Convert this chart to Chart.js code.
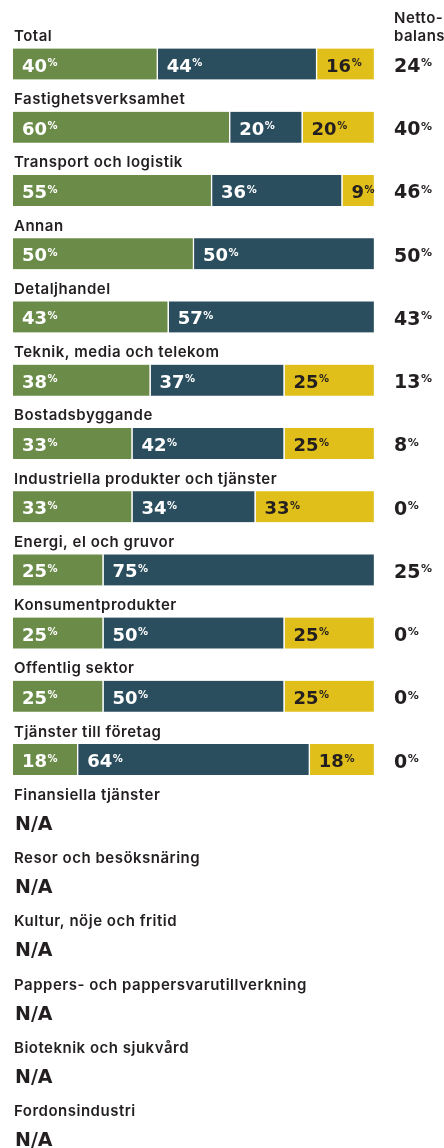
<!DOCTYPE html>
<html>
<head>
<meta charset="utf-8">
<script src="https://cdn.jsdelivr.net/npm/chart.js@4"></script>
<style>
  html, body { margin: 0; padding: 0; background: #fff; }
  #wrap { width: 444px; height: 1148px; }
</style>
</head>
<body>
<div id="wrap"><canvas id="chart" width="444" height="1148"></canvas></div>
<script>
const categories = [
  'Total',
  'Fastighetsverksamhet',
  'Transport och logistik',
  'Annan',
  'Detaljhandel',
  'Teknik, media och telekom',
  'Bostadsbyggande',
  'Industriella produkter och tjänster',
  'Energi, el och gruvor',
  'Konsumentprodukter',
  'Offentlig sektor',
  'Tjänster till företag',
  'Finansiella tjänster',
  'Resor och besöksnäring',
  'Kultur, nöje och fritid',
  'Pappers- och pappersvarutillverkning',
  'Bioteknik och sjukvård',
  'Fordonsindustri',
];

// green / blue / yellow shares, null = no answer (N/A)
const positive = [40, 60, 55, 50, 43, 38, 33, 33, 25, 25, 25, 18, null, null, null, null, null, null];
const neutral  = [44, 20, 36, 50, 57, 37, 42, 34, 75, 50, 50, 64, null, null, null, null, null, null];
const negative = [16, 20, 9, null, null, 25, 25, 33, null, 25, 25, 18, null, null, null, null, null, null];
const netBalance = [24, 40, 46, 50, 43, 13, 8, 0, 25, 0, 0, 0, null, null, null, null, null, null];

const colors = ['#6b8c49', '#2a4e5e', '#e1bf1b'];
const textColors = ['#ffffff', '#ffffff', '#231f20'];
const ink = '#231f20';

const drawPct = (ctx, x, y, value, size, pctSize, color) => {
  const s = String(value);
  ctx.fillStyle = color;
  ctx.textAlign = 'left';
  ctx.textBaseline = 'alphabetic';
  ctx.font = `bold ${size}px "DejaVu Sans"`;
  ctx.fillText(s, x, y);
  const w = ctx.measureText(s).width;
  ctx.font = `bold ${pctSize}px "DejaVu Sans"`;
  ctx.fillText('%', x + w + 0.5, y - size * 0.3);
};

const labelsPlugin = {
  id: 'labels',
  afterDatasetsDraw(chart) {
    const ctx = chart.ctx;
    const yScale = chart.scales.y;
    ctx.save();

    // column header
    ctx.fillStyle = ink;
    ctx.font = '600 15px Inter';
    ctx.letterSpacing = '0.5px';
    ctx.textBaseline = 'middle';
    ctx.textAlign = 'left';
    ctx.fillText('Netto-', 394, 18);
    ctx.fillText('balans', 394, 36);

    categories.forEach((cat, i) => {
      const y = yScale.getPixelForValue(i);
      ctx.fillStyle = ink;
      ctx.font = '600 15px Inter';
      ctx.letterSpacing = '0.5px';
      ctx.textBaseline = 'middle';
      ctx.textAlign = 'left';
      ctx.fillText(cat, 14, y - 27.5);
      ctx.letterSpacing = '0px';

      const hasData = [positive, neutral, negative].some(arr => arr[i] !== null);
      if (!hasData) {
        ctx.fillStyle = ink;
        ctx.font = 'bold 19px "DejaVu Sans"';
        ctx.textBaseline = 'alphabetic';
        ctx.fillText('N/A', 15, y + 7);
        return;
      }

      chart.data.datasets.forEach((ds, d) => {
        const v = ds.data[i];
        if (v === null) return;
        const bar = chart.getDatasetMeta(d).data[i];
        drawPct(ctx, Math.min(bar.base, bar.x) + 9, y + 7.5, v, 18, 10, textColors[d]);
      });

      if (netBalance[i] !== null) {
        drawPct(ctx, 394, y + 8, netBalance[i], 19, 11, ink);
      }
    });
    ctx.restore();
  }
};

const makeDataset = (label, data, idx) => ({
  label,
  data,
  backgroundColor: colors[idx],
  borderColor: '#ffffff',
  borderWidth: { left: 0, right: 1.5, top: 0, bottom: 0 },
  borderSkipped: false,
  barThickness: 31,
  clip: false,
});

new Chart(document.getElementById('chart'), {
  type: 'bar',
  data: {
    labels: categories,
    datasets: [
      makeDataset('Positiv', positive, 0),
      makeDataset('Neutral', neutral, 1),
      makeDataset('Negativ', negative, 2),
    ],
  },
  plugins: [labelsPlugin],
  options: {
    indexAxis: 'y',
    responsive: false,
    animation: false,
    layout: {
      padding: { left: 13, right: 69, top: 64, bottom: 9 },
    },
    plugins: {
      legend: { display: false },
      tooltip: { enabled: false },
    },
    scales: {
      x: {
        stacked: true,
        min: 0,
        max: 100,
        display: false,
      },
      y: {
        stacked: true,
        offset: false,
        display: false,
        grid: { offset: false },
      },
    },
  },
});
</script>
</body>
</html>
